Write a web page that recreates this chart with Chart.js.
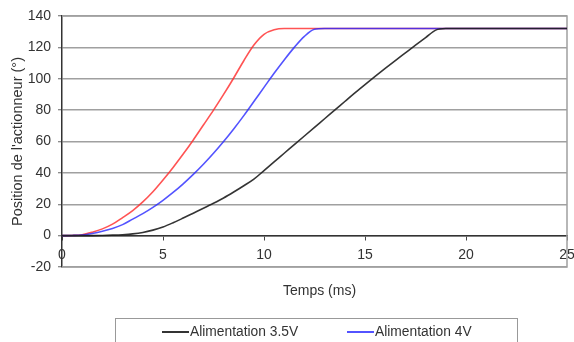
<!DOCTYPE html>
<html>
<head>
<meta charset="utf-8">
<script src="https://cdn.jsdelivr.net/npm/chart.js@4/dist/chart.umd.min.js"></script>
<style>
html,body{margin:0;padding:0;background:#fff;overflow:hidden;}
#wrap{width:574px;height:342px;position:relative;}
</style>
</head>
<body>
<div id="wrap"><canvas id="c" width="574" height="342"></canvas></div>
<script>
// Time axis (ms)
const times = [0,0.5,1,1.5,2,2.5,3,3.5,4,4.5,5,5.5,6,6.5,7,7.5,8,8.5,9,9.5,10,10.5,11,11.5,12,12.5,13,13.5,14,14.5,15,15.5,16,16.5,17,17.5,18,18.5,19,25];

// Position (°) for each supply voltage
const pos35V = [0,0,0,0,0.1,0.3,0.6,1.1,2,3.5,5.5,8.2,11.2,14.3,17.4,20.6,24,27.8,31.8,36,41.5,47,52.5,58,63.5,69,74.5,80,85.5,91,96.3,101.5,106.6,111.6,116.5,121.4,126.2,131,132,132];
const pos4V  = [0,0.1,0.4,1.4,2.8,4.6,7,10.5,14,18,22.5,27.5,33,39,45.5,52.5,60,68,76.5,85.5,94.5,103.5,112,120,127,131.5,132,132,132,132,132,132,132,132,132,132,132,132,132,132];
const pos45V = [0,0.1,0.6,2.2,4.3,7.3,11.5,16,21.5,28,35.5,43.5,52,61,70.5,80,90,100.5,111.5,121.5,128.3,131.2,132,132,132,132,132,132,132,132,132,132,132,132,132,132,132,132,132,132];

const seriesLabels = ['Alimentation 3.5V','Alimentation 4V','Alimentation 4.5V'];
const xTicks = [0,5,10,15,20,25];
const yTicks = [-20,0,20,40,60,80,100,120,140];

const FONT = 'Liberation Sans, Arial, sans-serif';
const TXT = '#333';

function pts(ys){ return times.map((t,i)=>({x:t,y:ys[i]})); }

const framePlugin = {
  id:'frame',
  beforeDatasetsDraw(chart){
    const {ctx, chartArea:a} = chart;
    ctx.save();
    ctx.strokeStyle = '#a0a0a0';
    ctx.lineWidth = 1.5;
    ctx.beginPath();
    ctx.moveTo(a.left, a.top); ctx.lineTo(a.right, a.top); ctx.lineTo(a.right, a.bottom); ctx.lineTo(a.left, a.bottom);
    ctx.stroke();
    ctx.restore();
  },
  afterDraw(chart){
    const {ctx, chartArea:a} = chart;
    ctx.save();
    // x title
    ctx.fillStyle = TXT;
    ctx.font = '14px ' + FONT;
    ctx.textAlign = 'center';
    ctx.textBaseline = 'middle';
    ctx.fillText('Temps (ms)', (a.left + a.right)/2 + 5, 291);
    // legend box
    ctx.strokeStyle = '#999';
    ctx.lineWidth = 1;
    ctx.strokeRect(115.5, 318.5, 402, 60);
    const ds = chart.data.datasets;
    const colX = [162, 347];
    ds.forEach((d,i)=>{
      const col = i % 2, row = Math.floor(i/2);
      const x = colX[col], y = 332 + row*20;
      ctx.strokeStyle = d.borderColor;
      ctx.lineWidth = 2;
      ctx.beginPath(); ctx.moveTo(x, y); ctx.lineTo(x+27, y); ctx.stroke();
      ctx.fillStyle = TXT;
      ctx.textAlign = 'left';
      ctx.font = '13.8px ' + FONT;
      ctx.fillText(d.label, x+28, y);
    });
    ctx.restore();
  }
};

new Chart(document.getElementById('c'), {
  type:'line',
  data:{
    datasets:[
      {label:seriesLabels[0], data:pts(pos35V), borderColor:'rgba(30,30,30,0.9)', borderWidth:1.6, pointRadius:0, cubicInterpolationMode:'monotone', fill:false},
      {label:seriesLabels[1], data:pts(pos4V), borderColor:'rgba(40,40,255,0.8)', borderWidth:1.6, pointRadius:0, cubicInterpolationMode:'monotone', fill:false},
      {label:seriesLabels[2], data:pts(pos45V), borderColor:'rgba(255,40,40,0.8)', borderWidth:1.6, pointRadius:0, cubicInterpolationMode:'monotone', fill:false}
    ]
  },
  options:{
    responsive:false,
    animation:false,
    layout:{padding:{top:16, right:7, bottom:75, left:0}},
    plugins:{legend:{display:false}, tooltip:{enabled:false}, title:{display:false}},
    scales:{
      x:{
        type:'linear', min:0, max:25,
        position:{y:0},
        afterBuildTicks(s){ s.ticks = xTicks.map(v=>({value:v})); },
        afterFit(s){ s.paddingLeft = 0; s.paddingRight = 0; },
        ticks:{color:TXT, font:{size:14, family:FONT}, padding:7, maxRotation:0},
        grid:{drawOnChartArea:false, drawTicks:true, tickLength:4, color:'#444', lineWidth:1},
        border:{display:true, color:'#333', width:1.5},
        title:{display:false}
      },
      y:{
        type:'linear', min:-20, max:140,
        afterBuildTicks(s){ s.ticks = yTicks.map(v=>({value:v})); },
        afterFit(s){ s.width = 62; },
        ticks:{color:TXT, font:{size:14, family:FONT}, padding:7},
        grid:{color:'#a0a0a0', lineWidth:1.5, drawTicks:true, tickLength:4, tickColor:'#666', tickWidth:1},
        border:{display:true, color:'#333', width:1.5},
        title:{display:true, text:"Position de l'actionneur (°)", color:TXT, font:{size:14.5, family:FONT}, padding:{top:9, bottom:0}}
      }
    }
  },
  plugins:[framePlugin]
});
</script>
</body>
</html>
